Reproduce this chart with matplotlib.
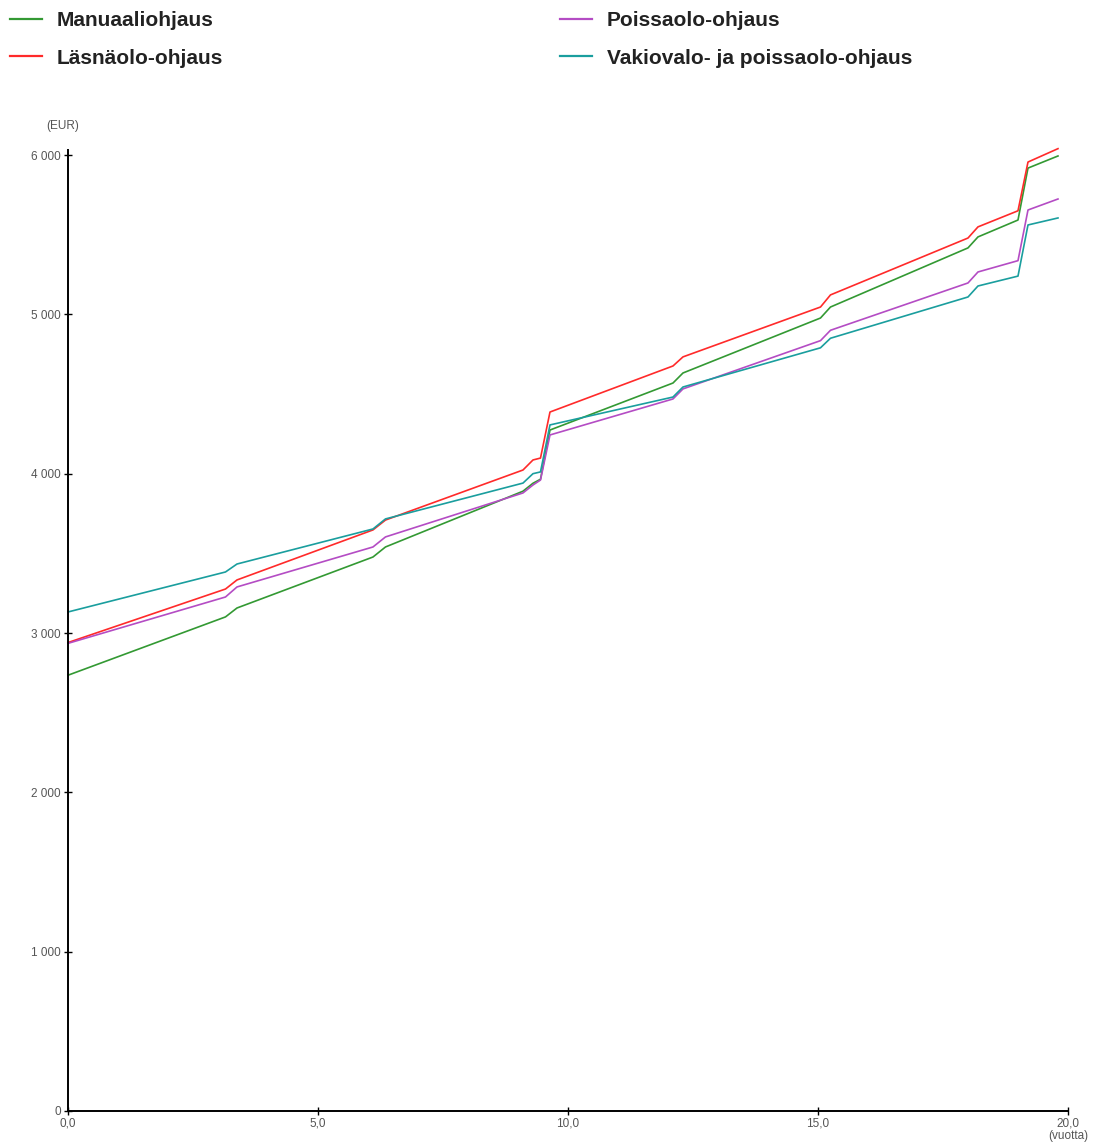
import matplotlib
matplotlib.use("Agg")
import matplotlib.pyplot as plt
from matplotlib.lines import Line2D
from matplotlib.ticker import FuncFormatter, MultipleLocator

plt.rcParams['font.family'] = ['Liberation Sans', 'DejaVu Sans']

# vuodet (taitekohdat)
years = [0, 3.15, 3.38, 6.1, 6.35, 9.1, 9.3, 9.45, 9.64, 12.1, 12.3,
         15.05, 15.25, 18.0, 18.2, 19.0, 19.2, 19.8]

manuaali = [2735, 3101, 3157, 3477, 3540, 3890, 3940, 3965, 4274, 4569, 4632,
            4977, 5046, 5417, 5486, 5592, 5918, 5994]
lasnaolo = [2940, 3276, 3333, 3647, 3709, 4023, 4086, 4098, 4387, 4676, 4733,
            5046, 5122, 5479, 5549, 5650, 5956, 6040]
poissaolo = [2935, 3226, 3289, 3540, 3603, 3879, 3929, 3960, 4243, 4469, 4532,
             4835, 4900, 5197, 5266, 5337, 5655, 5724]
vakiovalo = [3132, 3383, 3433, 3653, 3716, 3941, 4000, 4011, 4306, 4481, 4544,
             4790, 4850, 5109, 5178, 5240, 5561, 5605]

labels = ['Manuaaliohjaus', 'Läsnäolo-ohjaus', 'Poissaolo-ohjaus',
          'Vakiovalo- ja poissaolo-ohjaus']
colors = ['#339933', '#ff2a2a', '#b44cc4', '#1a9e9e']
series = [manuaali, lasnaolo, poissaolo, vakiovalo]

fig = plt.figure(figsize=(11, 11.44), dpi=100)
ax = fig.add_axes([0.0618, 0.02885, 0.9091, 0.844])

for vals, c in zip(series, colors):
    ax.plot(years, vals, color=c, lw=1.2, clip_on=False)

ax.set_xlim(0, 20)
ax.set_ylim(0, 6060)
ax.spines['top'].set_visible(False)
ax.spines['right'].set_visible(False)
ax.spines['left'].set_bounds(0, 6030)
for s in ('left', 'bottom'):
    ax.spines[s].set_linewidth(1.4)

ax.xaxis.set_major_locator(MultipleLocator(5))
ax.yaxis.set_major_locator(MultipleLocator(1000))
ax.xaxis.set_major_formatter(FuncFormatter(lambda v, p: f"{v:.1f}".replace(".", ",")))
ax.yaxis.set_major_formatter(FuncFormatter(lambda v, p: f"{int(v):,}".replace(",", " ")))
ax.tick_params(direction='inout', length=6, width=1, labelsize=8.5,
               labelcolor='#555555', pad=2)

ax.text(-0.022, 6180, '(EUR)', fontsize=8.5, color='#555555', ha='left',
        va='center', transform=ax.get_yaxis_transform())
ax.text(20.0, -157, '(vuotta)', fontsize=8.5, color='#555555', ha='center',
        va='center', clip_on=False)

handles = [Line2D([], [], color=c, lw=1.6) for c in colors]
leg_kw = dict(frameon=False, prop={'weight': 'bold', 'size': 15},
              handlelength=1.55, handletextpad=0.7, labelspacing=0.9,
              borderaxespad=0, borderpad=0)
leg1 = fig.legend(handles[:2], labels[:2], loc='upper left',
                  bbox_to_anchor=(0.009, 0.9905), **leg_kw)
leg2 = fig.legend(handles[2:], labels[2:], loc='upper left',
                  bbox_to_anchor=(0.509, 0.9905), **leg_kw)
for leg in (leg1, leg2):
    for t in leg.get_texts():
        t.set_color('#222222')

fig.savefig('out.png', dpi=100)
